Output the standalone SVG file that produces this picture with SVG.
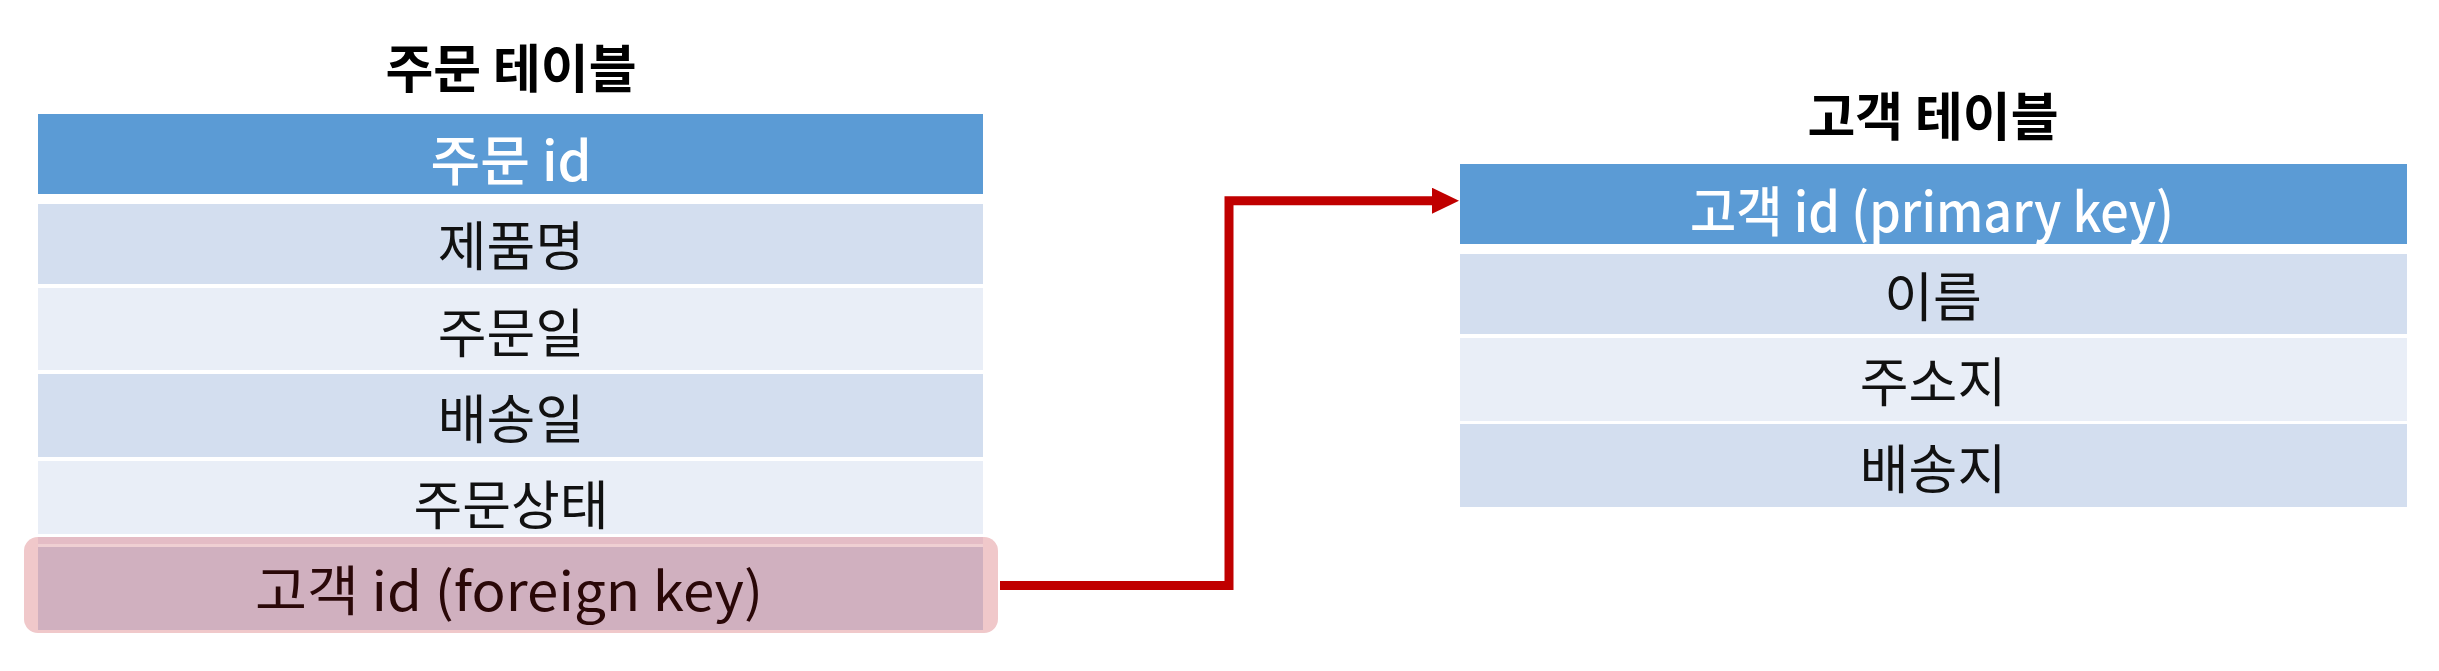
<svg xmlns="http://www.w3.org/2000/svg" width="2439" height="671" viewBox="0 0 2439 671">
  <style>
    text { font-family: "Noto Sans CJK KR", "Noto Sans", sans-serif; text-anchor: middle; dominant-baseline: central; }
    .title { font-size: 52px; font-weight: 700; fill: #000; }
    .hdr { fill: #5B9BD5; }
    .hdrtxt { font-size: 54px; font-weight: 500; fill: #FFFFFF; }
    .odd { fill: #D3DEEF; }
    .even { fill: #E9EEF7; }
    .cell { font-size: 53px; fill: #111; }
    .conn { fill: none; stroke: #C00000; stroke-width: 9; stroke-linejoin: miter; }
  </style>
  <defs>
    <marker id="arrow" markerUnits="userSpaceOnUse" markerWidth="28" markerHeight="27" refX="0" refY="13" orient="auto">
      <path d="M0,0 L27,13 L0,26 Z" fill="#C00000"/>
    </marker>
  </defs>
  <rect width="2439" height="671" fill="#FFFFFF"/>

  <g id="order-table">
    <text class="title" x="511" y="65">주문 테이블</text>
    <g id="order-id">
      <rect class="hdr" x="38" y="114" width="945" height="80"/>
      <text class="hdrtxt" x="511" y="157">주문 id</text>
    </g>
    <g id="order-product">
      <rect class="odd" x="38" y="204" width="945" height="80"/>
      <text class="cell" x="511" y="243">제품명</text>
    </g>
    <g id="order-date">
      <rect class="even" x="38" y="288" width="945" height="82"/>
      <text class="cell" x="511" y="330">주문일</text>
    </g>
    <g id="order-ship">
      <rect class="odd" x="38" y="374" width="945" height="83"/>
      <text class="cell" x="511" y="416">배송일</text>
    </g>
    <g id="order-status">
      <rect class="even" x="38" y="461" width="945" height="73"/>
      <text class="cell" x="511" y="502">주문상태</text>
    </g>
    <g id="order-customer-fk">
      <rect x="24" y="537" width="974" height="96" rx="14" fill="#F0C8CA"/>
      <rect x="38" y="537" width="945" height="7" fill="#E4BCC5"/>
      <rect x="38" y="544" width="945" height="3" fill="#EFCFD2"/>
      <rect x="38" y="547" width="945" height="83" fill="#D0B0BF"/>
      <text x="509" y="587" font-size="54" fill="#2A0808" textLength="508" lengthAdjust="spacingAndGlyphs">고객 id (foreign key)</text>
    </g>
  </g>

  <g id="customer-table">
    <text class="title" x="1933" y="113">고객 테이블</text>
    <g id="customer-id">
      <rect class="hdr" x="1460" y="164" width="947" height="80"/>
      <text class="hdrtxt" x="1932" y="208" textLength="484" lengthAdjust="spacingAndGlyphs">고객 id (primary key)</text>
    </g>
    <g id="customer-name">
      <rect class="odd" x="1460" y="254" width="947" height="80"/>
      <text class="cell" x="1933" y="294">이름</text>
    </g>
    <g id="customer-address">
      <rect class="even" x="1460" y="338" width="947" height="83"/>
      <text class="cell" x="1933" y="379">주소지</text>
    </g>
    <g id="customer-ship">
      <rect class="odd" x="1460" y="424" width="947" height="83"/>
      <text class="cell" x="1933" y="466">배송지</text>
    </g>
  </g>

  <g id="connectors">
    <path class="conn" d="M1000,585.5 H1229 V200.7 H1432" marker-end="url(#arrow)"/>
  </g>
</svg>
